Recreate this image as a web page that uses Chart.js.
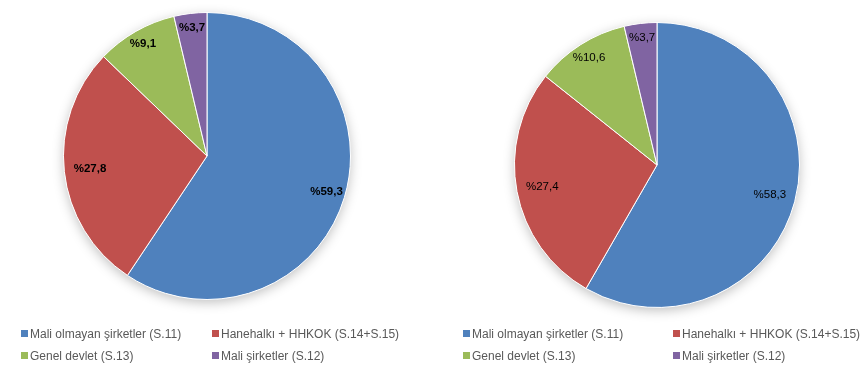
<!DOCTYPE html>
<html lang="tr">
<head>
<meta charset="UTF-8">
<title>Sektörlere göre dağılım</title>
<script src="https://cdn.jsdelivr.net/npm/chart.js"></script>
<style>
    body { margin: 0; background: #fff; font-family: "Liberation Sans", Arial, sans-serif; }
    .wrap { position: relative; width: 864px; height: 373px; overflow: hidden; }
    .panel { position: absolute; top: 0; width: 432px; height: 373px; }
    .legend { position: absolute; color: #595959; font-size: 12px; }
    .legend span { position: absolute; white-space: nowrap; line-height: 15px; }
    .legend i { display: inline-block; width: 7px; height: 7px; margin-right: 2px; vertical-align: 1px; }
</style>
</head>
<body>
<div class="wrap">
    <div class="panel" style="left:0"><canvas id="solGrafik" width="432" height="373"></canvas></div>
    <div class="panel" style="left:432px"><canvas id="sagGrafik" width="432" height="373"></canvas></div>
    <div class="legend" id="solLejant" style="left:0;top:0"></div>
    <div class="legend" id="sagLejant" style="left:0;top:0"></div>
</div>
<script>
    const sektorler = ['Mali olmayan şirketler (S.11)', 'Hanehalkı + HHKOK (S.14+S.15)', 'Genel devlet (S.13)', 'Mali şirketler (S.12)'];
    const solDegerler = [59.3, 27.8, 9.1, 3.7];
    const sagDegerler = [58.3, 27.4, 10.6, 3.7];
    const renkler = ['#4F81BD', '#C0504D', '#9BBB59', '#8064A2'];

    // etiketleri dilimlerin icine yaz
    const etiketPlugin = {
        id: 'etiketler',
        beforeDatasetsDraw(chart) {
            const ctx = chart.ctx;
            ctx.save();
            ctx.shadowColor = 'rgba(0,0,0,0.25)';
            ctx.shadowBlur = 12;
            ctx.shadowOffsetY = 3;
            const m = chart.getDatasetMeta(0).data[0];
            ctx.beginPath();
            ctx.arc(m.x, m.y, m.outerRadius, 0, Math.PI * 2);
            ctx.fillStyle = '#fff';
            ctx.fill();
            ctx.restore();
        },
        afterDatasetsDraw(chart, args, opts) {
            const ctx = chart.ctx;
            const meta = chart.getDatasetMeta(0);
            const veri = chart.data.datasets[0].data;
            ctx.save();
            ctx.font = opts.font;
            ctx.fillStyle = '#000';
            ctx.textAlign = 'center';
            ctx.textBaseline = 'middle';
            meta.data.forEach((arc, i) => {
                const a = (arc.startAngle + arc.endAngle) / 2;
                const r = arc.outerRadius * opts.oran[i];
                const x = arc.x + Math.cos(a) * r;
                const y = arc.y + Math.sin(a) * r;
                ctx.fillText('%' + veri[i].toFixed(1).replace('.', ','), x, y);
            });
            ctx.restore();
        }
    };

    function grafikCiz(id, degerler, padding, font, oran) {
        const ctx = document.getElementById(id).getContext('2d');
        return new Chart(ctx, {
            type: 'pie',
            data: {
                labels: sektorler,
                datasets: [{
                    data: degerler,
                    backgroundColor: renkler,
                    borderColor: '#fff',
                    borderWidth: 1
                }]
            },
            options: {
                responsive: false,
                animation: false,
                layout: { padding: padding },
                plugins: {
                    legend: { display: false },
                    tooltip: { enabled: false },
                    etiketler: { font: font, oran: oran }
                }
            },
            plugins: [etiketPlugin]
        });
    }

    grafikCiz('solGrafik', solDegerler, { left: 63, right: 81, top: 12, bottom: 73 }, 'bold 11.5px "Liberation Sans", Arial', [0.87, 0.82, 0.9, 0.9]);
    grafikCiz('sagGrafik', sagDegerler, { left: 82, right: 64, top: 22, bottom: 65 }, '11.5px "Liberation Sans", Arial', [0.82, 0.82, 0.89, 0.9]);

    // lejant, 2 sutun 2 satir
    function lejantYap(id, sutunlar, satirlar) {
        const el = document.getElementById(id);
        sektorler.forEach((ad, i) => {
            const s = document.createElement('span');
            s.style.left = sutunlar[i % 2] + 'px';
            s.style.top = satirlar[Math.floor(i / 2)] + 'px';
            s.innerHTML = '<i style="background:' + renkler[i] + '"></i>' + ad;
            el.appendChild(s);
        });
    }
    lejantYap('solLejant', [21, 212], [327, 349]);
    lejantYap('sagLejant', [463, 673], [327, 349]);
</script>
</body>
</html>
